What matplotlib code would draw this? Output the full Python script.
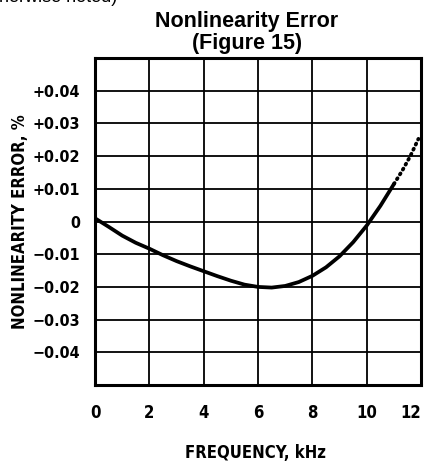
import numpy as np
import matplotlib.pyplot as plt

# curve (frequency kHz, error %)
freq = [0, 0.5, 1, 1.5, 2, 2.5, 3, 3.5, 4, 4.5, 5, 5.5, 6, 6.5, 7, 7.5, 8,
        8.5, 9, 9.5, 10, 10.5, 11]
err = [0.001, -0.0016, -0.0043, -0.0065, -0.0083, -0.0103, -0.0121, -0.0137,
       -0.0152, -0.0167, -0.0181, -0.0193, -0.0200, -0.0202, -0.0197, -0.0185,
       -0.0166, -0.0140, -0.0106, -0.0063, -0.0012, 0.0048, 0.0115]
# dotted extension
freq_dot = [11, 11.3, 11.6, 11.9]
err_dot = [0.0115, 0.0155, 0.0200, 0.0253]

xticks = [0, 2, 4, 6, 8, 10, 12]
yticks = [-0.04, -0.03, -0.02, -0.01, 0, 0.01, 0.02, 0.03, 0.04]
ylabels = ['\u22120.04', '\u22120.03', '\u22120.02', '\u22120.01', '0',
           '+0.01', '+0.02', '+0.03', '+0.04']

fig = plt.figure(figsize=(4.28, 4.63), dpi=100)
ax = fig.add_axes([0.222, 0.1685, 0.762, 0.706])

ax.plot(freq, err, color='black', lw=2.7, solid_capstyle='round')
ax.plot(freq_dot, err_dot, color='black', lw=2.7, ls=(0, (0.3, 1.2)),
        dash_capstyle='round')

ax.set_xlim(0, 12)
ax.set_ylim(-0.05, 0.05)
ax.set_xticks(xticks)
ax.set_yticks(yticks)
ax.set_yticklabels(ylabels)
ax.grid(True, color='black', lw=1.3)
ax.tick_params(axis='x', length=0, labelsize=12, pad=14)
ax.tick_params(axis='y', length=0, labelsize=11.5, pad=10.5)
for lab in ax.get_xticklabels() + ax.get_yticklabels():
    lab.set_fontweight('bold')
    lab.set_fontstretch('condensed')
ax.get_xticklabels()[-1].set_ha('right')
for s in ax.spines.values():
    s.set_linewidth(2.2)

ax.set_xlabel('FREQUENCY, kHz', fontsize=12, fontweight='bold',
              fontstretch='condensed')
ax.set_ylabel('NONLINEARITY ERROR, %', fontsize=12, fontweight='bold',
              fontstretch='condensed')
ax.xaxis.set_label_coords(0.491, -0.18)
ax.yaxis.set_label_coords(-0.2025, 0.5)

fig.text(0.577, 0.9417, 'Nonlinearity Error', ha='center', va='baseline',
         fontsize=15.5, fontweight='bold', family='Liberation Sans')
fig.text(0.577, 0.894, '(Figure 15)', ha='center', va='baseline',
         fontsize=15.5, fontweight='bold', family='Liberation Sans')
fig.text(0.275, 1.006, 'otherwise noted)', ha='right', va='center',
         fontsize=13, family='Liberation Sans')

fig.savefig('out.png', dpi=100)
